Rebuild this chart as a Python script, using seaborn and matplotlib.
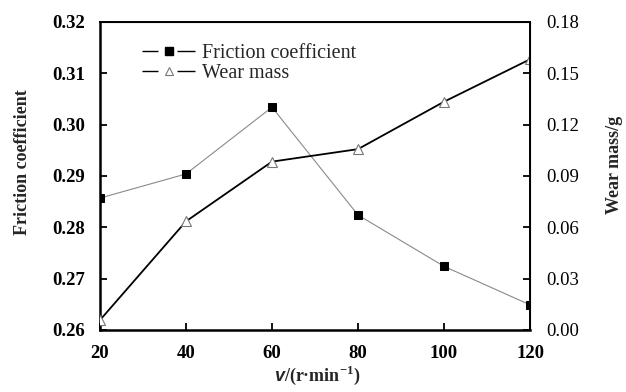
import matplotlib
matplotlib.use("Agg")
import matplotlib.pyplot as plt
import seaborn as sns
import pandas as pd
from matplotlib.lines import Line2D

speed = [20, 40, 60, 80, 100, 120]
friction = [0.2857, 0.2904, 0.3034, 0.2824, 0.2724, 0.2649]
wear = [0.0058, 0.0635, 0.0984, 0.1057, 0.1334, 0.1582]
left_ticks = [0.26, 0.27, 0.28, 0.29, 0.30, 0.31, 0.32]
right_ticks = [0.00, 0.03, 0.06, 0.09, 0.12, 0.15, 0.18]
x_ticks = [20, 40, 60, 80, 100, 120]

sns.set_style("ticks")
plt.rcParams['font.family'] = ['Liberation Serif', 'DejaVu Serif']
plt.rcParams['mathtext.fontset'] = 'custom'
plt.rcParams['mathtext.rm'] = 'Liberation Serif:bold'
plt.rcParams['mathtext.it'] = 'Liberation Sans:italic:bold'

df = pd.DataFrame({"speed": speed, "friction": friction, "wear": wear})

fig = plt.figure(figsize=(6.26, 3.92), dpi=100)
ax = fig.add_axes([100/626, 1-330/392, (530-100)/626, (330-22)/392])
ax2 = ax.twinx()

sns.lineplot(data=df, x="speed", y="friction", ax=ax, color="#8a8a8a", lw=0.8,
             marker="s", markersize=5.5, markerfacecolor="black", markeredgecolor="black")
sns.lineplot(data=df, x="speed", y="wear", ax=ax2, color="black", lw=1.3,
             marker="^", markersize=6.5, markerfacecolor="white", markeredgecolor="#777777",
             markeredgewidth=0.8)

ax.set_xlim(20, 120)
ax.set_ylim(0.26, 0.32)
ax2.set_ylim(0, 0.18)
ax.set_xticks(x_ticks)
ax.set_xticklabels([str(t) for t in x_ticks], fontweight="bold")
ax.set_yticks(left_ticks)
ax.set_yticklabels([f"{t:.2f}" for t in left_ticks], fontweight="bold")
ax2.set_yticks(right_ticks)
ax2.set_yticklabels([f"{t:.2f}" for t in right_ticks])

for a in (ax, ax2):
    a.tick_params(direction="in", length=5, width=1.3, labelsize=13.5, colors="black")
    for s in a.spines.values():
        s.set_color("black")
ax.tick_params(axis="x", pad=11)
ax.tick_params(axis="y", pad=11)
ax2.tick_params(axis="y", pad=12)
ax.spines["left"].set_linewidth(1.8)
ax.spines["bottom"].set_linewidth(1.8)
ax2.spines["right"].set_linewidth(1.4)
ax2.spines["top"].set_linewidth(1.4)
ax2.spines["left"].set_visible(False)
ax2.spines["bottom"].set_visible(False)

ax.set_xlabel(r"$\mathit{v}$/(r·min$^{-1}$)", fontsize=13, fontweight="bold")
ax.xaxis.set_label_coords(0.505, -0.11)
ax.set_ylabel("Friction coefficient", fontsize=13, fontweight="bold")
ax.yaxis.set_label_coords(-0.16, 0.545)
ax2.set_ylabel("Wear mass/g", fontsize=13, fontweight="bold")
ax2.yaxis.set_label_coords(1.177, 0.536)

dash = (0, (11.5, 13.7, 13, 60))
handles = [
    Line2D([], [], color="black", lw=1.0, linestyle=dash, marker="s", markersize=5.5,
           markerfacecolor="black", markeredgecolor="black"),
    Line2D([], [], color="black", lw=1.0, linestyle=dash, marker="^", markersize=6,
           markerfacecolor="white", markeredgecolor="#777777", markeredgewidth=0.8),
]
ax.legend(handles, ["Friction coefficient", "Wear mass"], loc="upper left",
          bbox_to_anchor=(0.098, 0.93), frameon=False, fontsize=14.5, numpoints=1,
          handlelength=2.63, handletextpad=0.35, labelspacing=0.05,
          borderaxespad=0, borderpad=0)

fig.savefig("out.png", dpi=100)
